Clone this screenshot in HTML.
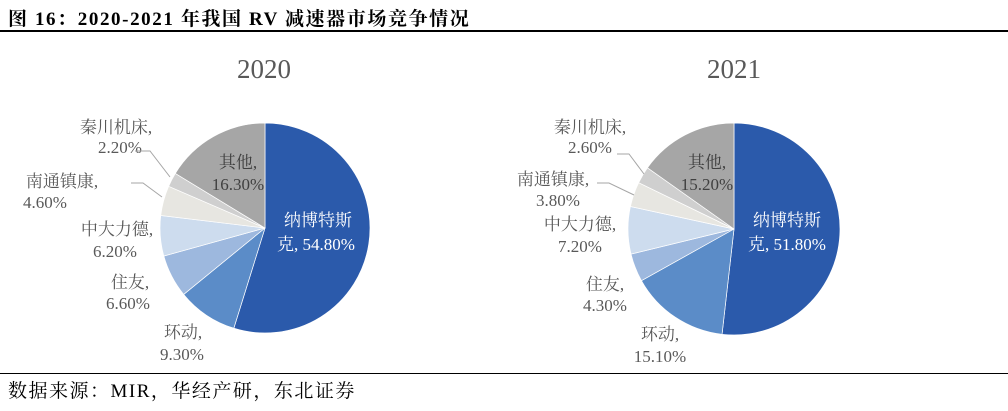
<!DOCTYPE html>
<html><head><meta charset="utf-8"><style>
body{margin:0;width:1008px;height:411px;background:#fff;overflow:hidden;position:relative;font-family:"Liberation Serif","Noto Serif CJK SC",serif}
.t{position:absolute;left:8px;top:4px;font-size:19px;font-weight:bold;color:#000;letter-spacing:1.6px}
.l1{position:absolute;left:0;top:30px;width:1008px;height:2px;background:#000}
.l2{position:absolute;left:0;top:373px;width:1008px;height:1px;background:#000}
.s{position:absolute;left:8px;top:376px;font-size:19px;color:#000;letter-spacing:1.5px}
svg{position:absolute;left:0;top:0}
</style></head><body>
<div class="t">图 16：2020-2021 年我国 RV 减速器市场竞争情况</div>
<div class="l1"></div>
<svg width="1008" height="411" id="sv" font-family="Liberation Serif, Noto Serif CJK SC, serif" font-size="17" fill="#595959" text-anchor="middle">
<text x="264" y="78" font-size="27">2020</text>
<text x="734" y="78" font-size="27">2021</text>
<g id="p"></g>
<g fill="#595959">
<text x="116" y="133">秦川机床,</text><text x="120" y="153">2.20%</text>
<text x="62" y="187">南通镇康,</text><text x="45" y="208">4.60%</text>
<text x="117" y="235">中大力德,</text><text x="115" y="257">6.20%</text>
<text x="130" y="288">住友,</text><text x="128" y="309">6.60%</text>
<text x="183" y="338">环动,</text><text x="182" y="360">9.30%</text>
<text x="238" y="168" fill="#404040">其他,</text><text x="238" y="190" fill="#404040">16.30%</text>
<text x="318" y="226" fill="#fff">纳博特斯</text><text x="316" y="250" fill="#fff">克, 54.80%</text>
<text x="590" y="133">秦川机床,</text><text x="590" y="153">2.60%</text>
<text x="553" y="185">南通镇康,</text><text x="558" y="206">3.80%</text>
<text x="580" y="230">中大力德,</text><text x="580" y="252">7.20%</text>
<text x="605" y="290">住友,</text><text x="605" y="311">4.30%</text>
<text x="660" y="340">环动,</text><text x="660" y="362">15.10%</text>
<text x="707" y="168" fill="#404040">其他,</text><text x="707" y="190" fill="#404040">15.20%</text>
<text x="787" y="226" fill="#fff">纳博特斯</text><text x="787" y="250" fill="#fff">克, 51.80%</text>
</g>
<g stroke="#a6a6a6" fill="none" stroke-width="1">
<polyline points="135,151 150,151 170,177"/>
<polyline points="131,183 143,183 162,197"/>
<polyline points="617,154 629,154 644,174"/>
<polyline points="597,183 609,183 634,195"/>
</g>
</svg>
<div class="l2"></div>
<div class="s">数据来源：MIR，华经产研，东北证券</div>
<script>
var cols=["#2b5aab","#5b8cc8","#9db8de","#cddcee","#e7e6e1","#cfcfcf","#a6a6a6"];
function pie(cx,cy,r,v){var a=0,s="";var tot=v.reduce(function(x,y){return x+y},0);
v.forEach(function(d,i){var a2=a+d/tot*2*Math.PI;
var x1=cx+r*Math.sin(a),y1=cy-r*Math.cos(a),x2=cx+r*Math.sin(a2),y2=cy-r*Math.cos(a2);
s+='<path d="M'+cx+','+cy+'L'+x1+','+y1+'A'+r+','+r+' 0 '+(a2-a>Math.PI?1:0)+' 1 '+x2+','+y2+'Z" fill="'+cols[i]+'" stroke="#fff" stroke-width="0.7"/>';a=a2;});return s;}
document.getElementById("p").innerHTML=pie(265,228,105,[54.8,9.3,6.6,6.2,4.6,2.2,16.3])+pie(734,229,106,[51.8,15.1,4.3,7.2,3.8,2.6,15.2]);
</script>
</body></html>
